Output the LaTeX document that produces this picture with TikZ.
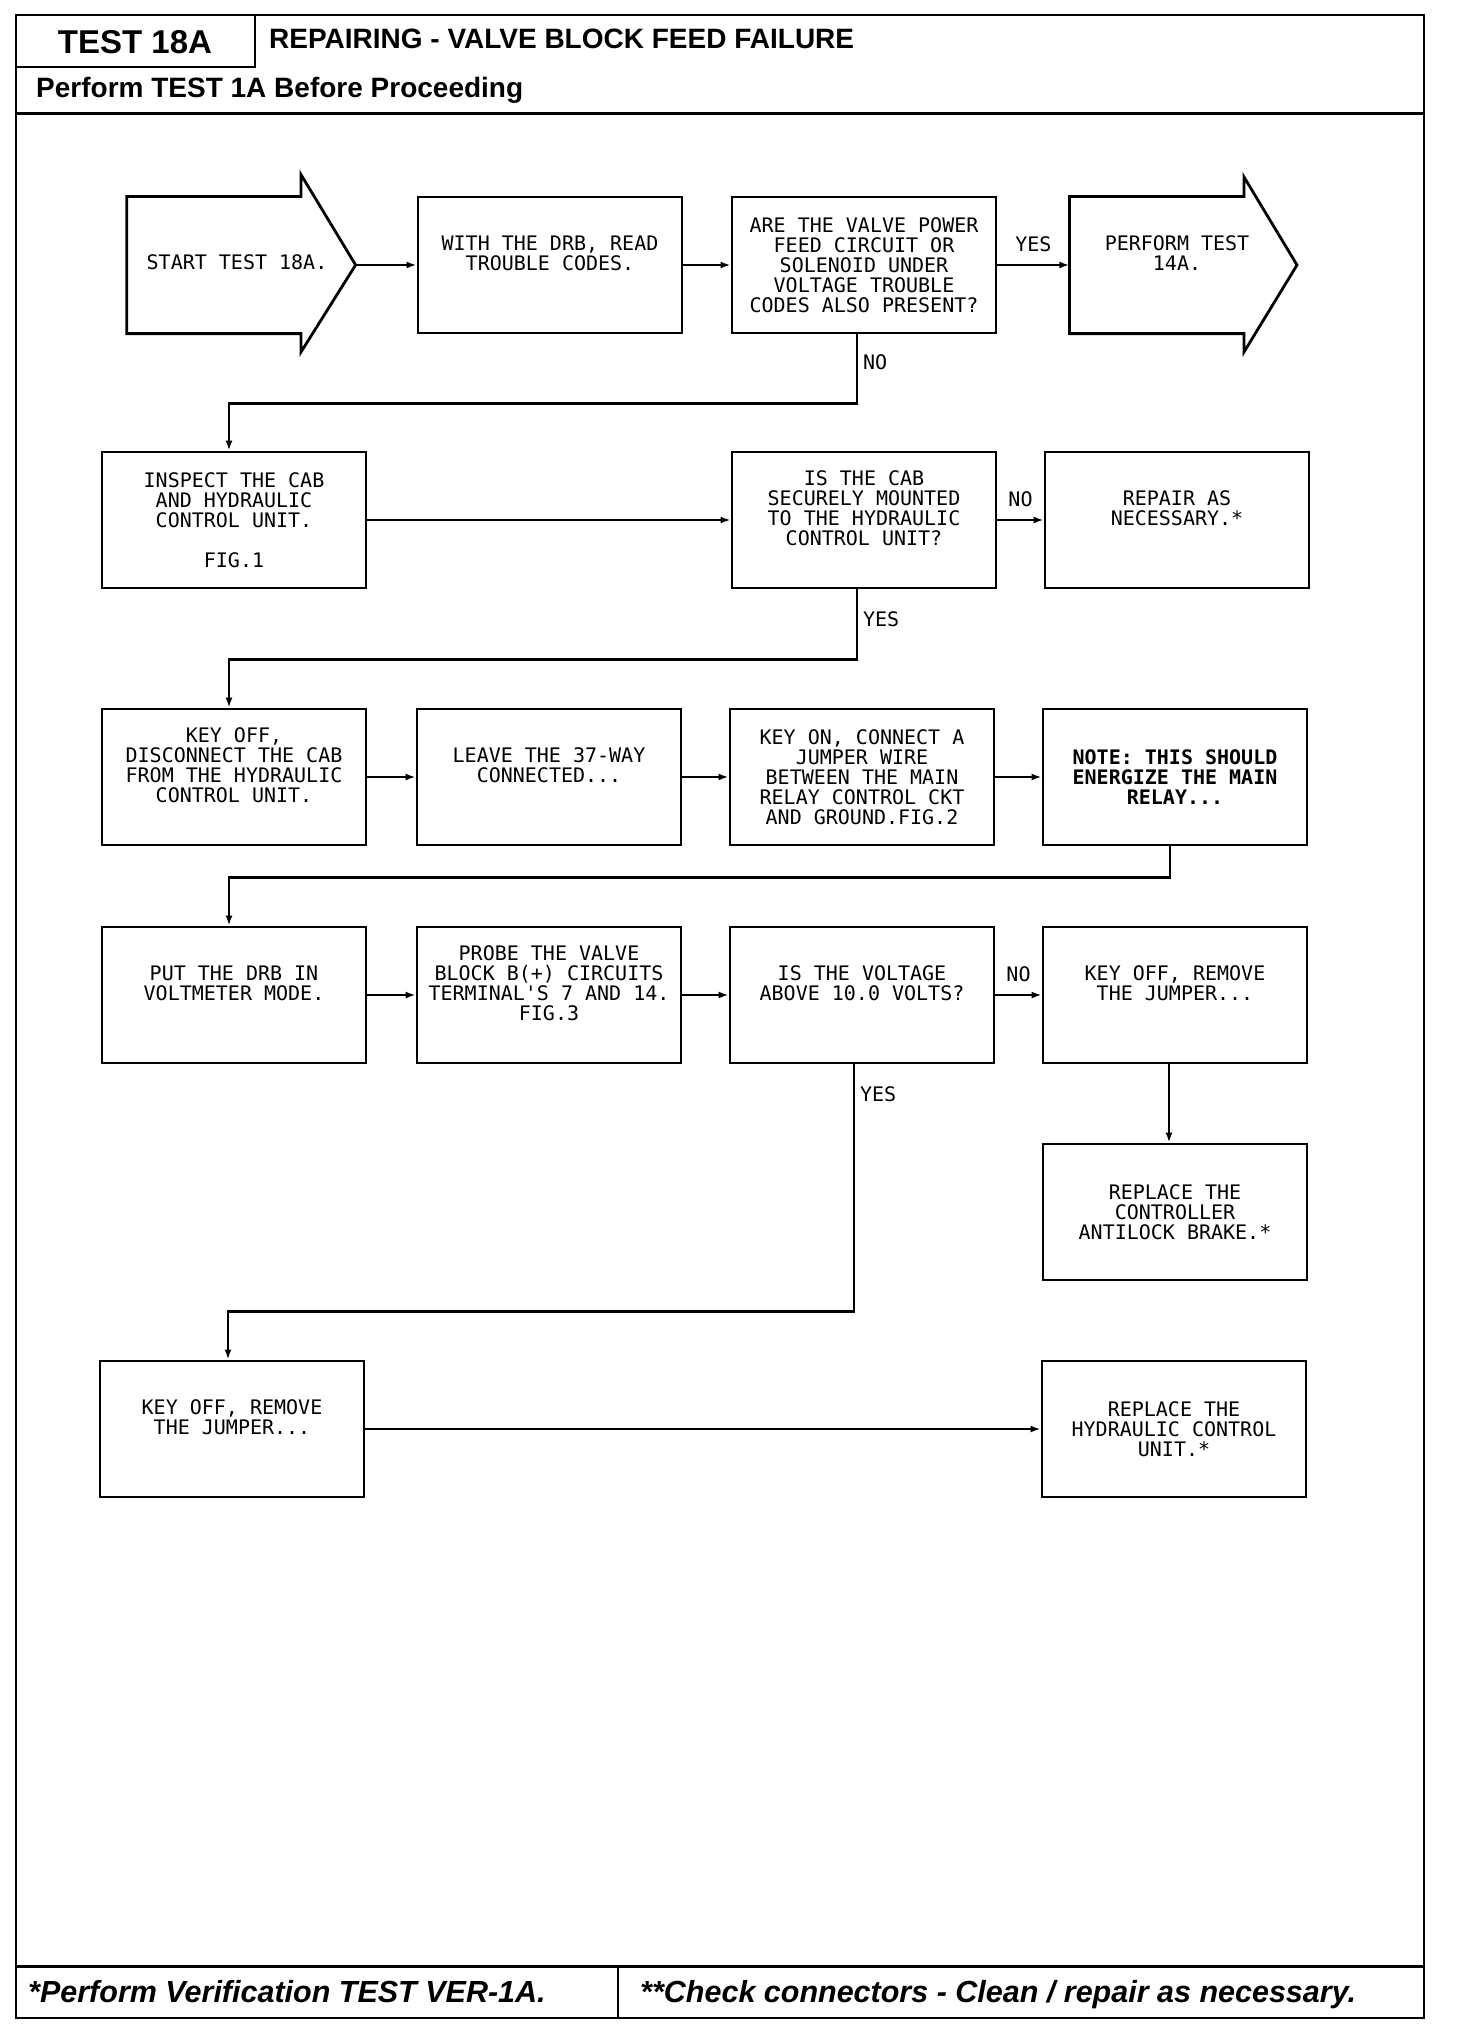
\documentclass[tikz,border=0pt]{standalone}
\usepackage{fontspec}
\usetikzlibrary{arrows.meta}
\newfontfamily\boxfont{DejaVu Sans Mono}
\newfontfamily\headfont{Liberation Sans}

\begin{document}
\begin{tikzpicture}[x=1pt, y=-1pt,
  box/.style={draw, line width=2.8pt, minimum width=264pt, minimum height=136pt,
    inner sep=0pt, align=center, font=\fontsize{20}{20}\boxfont},
  notebox/.style={box, font=\fontsize{20}{20}\boxfont\bfseries},
  raised/.style={text depth=24pt},
  conn/.style={line width=2.2pt, -{Latex[length=10pt,width=7pt]}},
  lbl/.style={inner sep=0pt, font=\fontsize{20}{20}\boxfont}]

\useasboundingbox (0,0) rectangle (1456,2028);

% Draw the page frame, header and footer
\draw[line width=2pt] (15.5,15.5) rectangle (1424,2018);
\draw[line width=2pt] (255,15.5) -- (255,67) -- (15.5,67);
\draw[line width=3pt] (15.5,114) -- (1424,114);
\draw[line width=3pt] (15.5,1966) -- (1424,1966);
\draw[line width=2pt] (618,1966) -- (618,2018);

\node[anchor=base, inner sep=0pt, font=\fontsize{33}{33}\headfont\bfseries] (testno) at (135,54) {TEST 18A};
\node[anchor=base west, inner sep=0pt, font=\fontsize{28}{28}\headfont\bfseries] (title) at (269,49) {REPAIRING - VALVE BLOCK FEED FAILURE};
\node[anchor=base west, inner sep=0pt, font=\fontsize{28}{28}\headfont\bfseries] (pretest) at (36,98) {Perform TEST 1A Before Proceeding};
\node[anchor=base west, inner sep=0pt, font=\fontsize{30.5}{30.5}\headfont\bfseries\itshape] (verify) at (28,2002) {*Perform Verification TEST VER-1A.};
\node[anchor=base west, inner sep=0pt, font=\fontsize{30.5}{30.5}\headfont\bfseries\itshape] (connnote) at (640,2002) {**Check connectors - Clean / repair as necessary.};

% Start and exit arrows
\draw[line width=2.8pt] (126.7,196.6) -- (301,196.6) -- (301,174.6) -- (355.6,265)
  -- (301,352) -- (301,333.6) -- (126.7,333.6) -- cycle;
\node[font=\fontsize{20}{20}\boxfont] (start) at (237,262) {START TEST 18A.};
\coordinate (starttip) at (355.6,265);

\draw[line width=2.8pt] (1069.4,196.6) -- (1244,196.6) -- (1244,177) -- (1297,265)
  -- (1244,352) -- (1244,333.6) -- (1069.4,333.6) -- cycle;
\node[align=center, font=\fontsize{20}{20}\boxfont] (perform) at (1177,253) {PERFORM TEST\\14A.};
\coordinate (performin) at (1069.4,265);

% Row 1
\node[box, raised] (readcodes) at (550,265) {WITH THE DRB, READ\\TROUBLE CODES.};
\node[box] (codesq) at (864,265) {ARE THE VALVE POWER\\FEED CIRCUIT OR\\SOLENOID UNDER\\VOLTAGE TROUBLE\\CODES ALSO PRESENT?};

% Row 2
\node[box] (inspect) at (234,520) {INSPECT THE CAB\\AND HYDRAULIC\\CONTROL UNIT.\\[20pt]FIG.1};
\node[box, raised] (mountq) at (864,520) {IS THE CAB\\SECURELY MOUNTED\\TO THE HYDRAULIC\\CONTROL UNIT?};
\node[box, raised] (repair) at (1177,520) {REPAIR AS\\NECESSARY.*};

% Row 3
\node[box, raised] (keyoff) at (234,777) {KEY OFF,\\DISCONNECT THE CAB\\FROM THE HYDRAULIC\\CONTROL UNIT.};
\node[box, raised] (leave) at (549,777) {LEAVE THE 37-WAY\\CONNECTED...};
\node[box] (jumper) at (862,777) {KEY ON, CONNECT A\\JUMPER WIRE\\BETWEEN THE MAIN\\RELAY CONTROL CKT\\AND GROUND.FIG.2};
\node[notebox] (energize) at (1175,777) {NOTE: THIS SHOULD\\ENERGIZE THE MAIN\\RELAY...};

% Row 4
\node[box, raised] (voltmode) at (234,995) {PUT THE DRB IN\\VOLTMETER MODE.};
\node[box, raised] (probe) at (549,995) {PROBE THE VALVE\\BLOCK B(+) CIRCUITS\\TERMINAL'S 7 AND 14.\\FIG.3};
\node[box, raised] (voltq) at (862,995) {IS THE VOLTAGE\\ABOVE 10.0 VOLTS?};
\node[box, raised] (removea) at (1175,995) {KEY OFF, REMOVE\\THE JUMPER...};

% Rows 5 and 6
\node[box] (replacecab) at (1175,1212) {REPLACE THE\\CONTROLLER\\ANTILOCK BRAKE.*};
\node[box, raised] (removeb) at (232,1429) {KEY OFF, REMOVE\\THE JUMPER...};
\node[box] (replacehcu) at (1174,1429) {REPLACE THE\\HYDRAULIC CONTROL\\UNIT.*};

% Draw connectors
\draw[conn] (starttip) -- (readcodes);
\draw[conn] (readcodes) -- (codesq);
\draw[conn] (codesq) -- node[lbl, above=12pt] {YES} (performin);
\draw[conn] ([xshift=-7pt]codesq.south) -- node[lbl, right=5pt, pos=0.4] {NO} ++(0,69) -| ([xshift=-5pt]inspect.north);

\draw[conn] (inspect) -- (mountq);
\draw[conn] (mountq) -- node[lbl, above=12pt] {NO} (repair);
\draw[conn] ([xshift=-7pt]mountq.south) -- node[lbl, right=5pt, pos=0.43] {YES} ++(0,70) -| ([xshift=-5pt]keyoff.north);

\draw[conn] (keyoff) -- (leave);
\draw[conn] (leave) -- (jumper);
\draw[conn] (jumper) -- (energize);
\draw[conn] ([xshift=-5pt]energize.south) -- ++(0,31) -| ([xshift=-5pt]voltmode.north);

\draw[conn] (voltmode) -- (probe);
\draw[conn] (probe) -- (voltq);
\draw[conn] (voltq) -- node[lbl, above=12pt] {NO} (removea);
\draw[conn] ([xshift=-8pt]voltq.south) -- node[lbl, right=5pt, pos=0.12] {YES} ++(0,247) -| ([xshift=-4pt]removeb.north);
\draw[conn] ([xshift=-6pt]removea.south) -- ([xshift=-6pt]replacecab.north);
\draw[conn] (removeb) -- (replacehcu);

\end{tikzpicture}
\end{document}
